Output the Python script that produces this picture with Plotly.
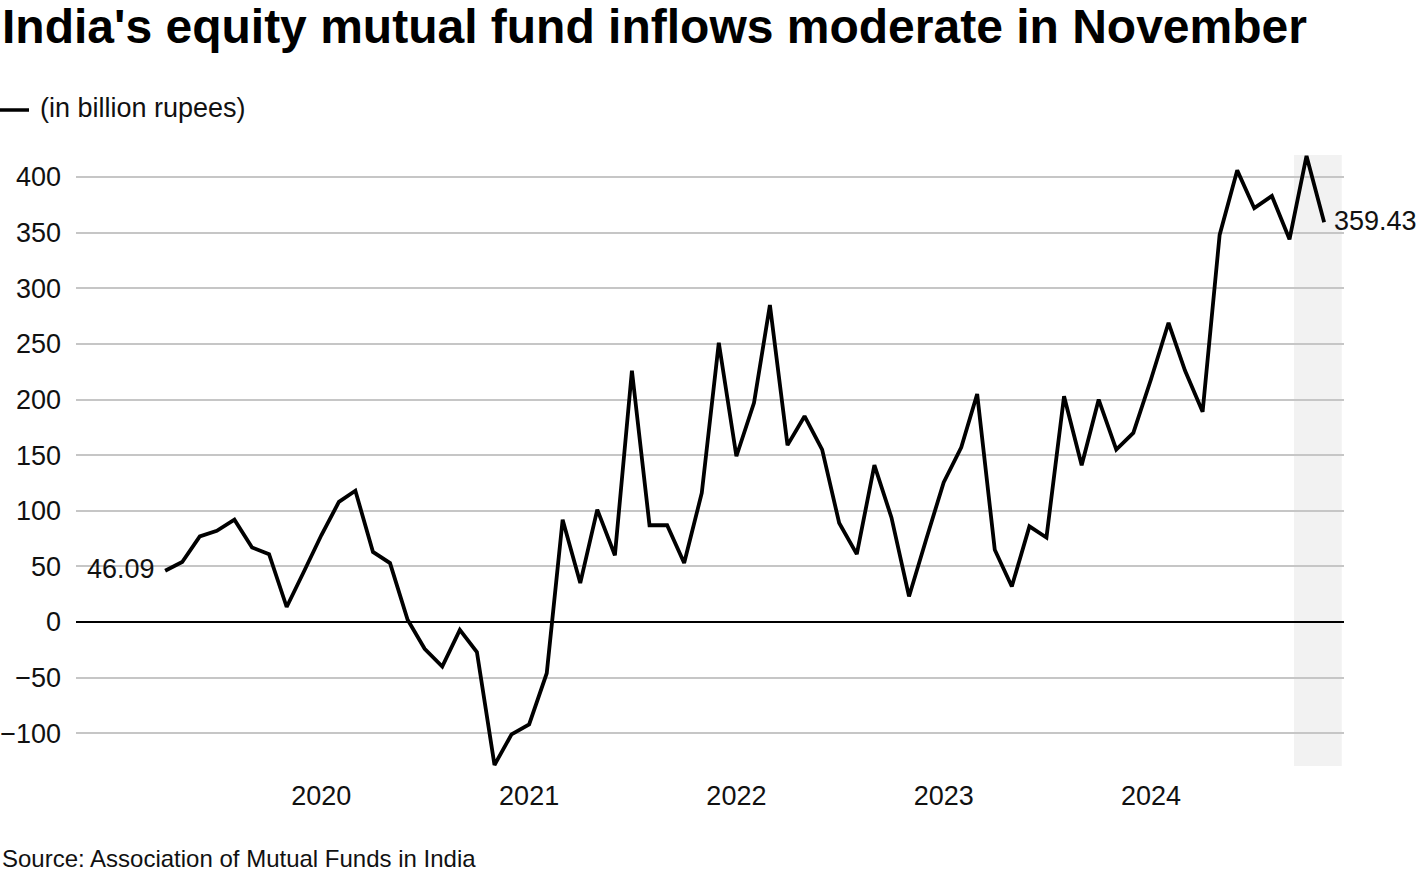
import pandas as pd
import plotly.graph_objects as go

# ---- data (billion rupees, monthly net equity MF inflows) ----
start_month = "2019-04-01"
values = [
    46.09, 54, 77, 82, 92, 67, 61, 13.5, 45,                      # Apr-Dec 2019
    78, 108, 118, 63, 53, 2, -24, -40, -7, -27, -128.5, -101,       # 2020
    -92, -46, 92, 35, 101, 60, 226, 87, 87, 53, 116, 251,           # 2021
    149, 197, 285, 159, 185, 155, 89, 61, 141, 94, 23, 74,          # 2022
    125.5, 157, 205, 65, 32, 86, 76, 203, 141, 200, 155, 170,       # 2023
    218, 269, 226, 189, 348, 406, 372, 383, 344, 419, 359.43,       # Jan-Nov 2024
]
months = pd.date_range(start_month, periods=len(values), freq="MS")

year_ticks = ["2020-01-01", "2021-01-01", "2022-01-01", "2023-01-01", "2024-01-01"]
year_labels = ["2020", "2021", "2022", "2023", "2024"]
y_ticks = [-100, -50, 0, 50, 100, 150, 200, 250, 300, 350, 400]

title_text = "India's equity mutual fund inflows moderate in November"
unit_text = "(in billion rupees)"
source_text = "Source: Association of Mutual Funds in India"

FONT = "Liberation Sans, Arial, Helvetica, sans-serif"
INK = "#111111"

fig = go.Figure()
fig.add_trace(go.Scatter(
    x=months, y=values, mode="lines",
    line=dict(color="black", width=3.8),
    hoverinfo="x+y", showlegend=False,
))

# highlight band for latest months
fig.add_shape(type="rect", xref="x", yref="paper",
              x0="2024-09-09", x1="2024-12-02", y0=0, y1=1,
              fillcolor="#f2f2f2", line=dict(width=0), layer="below")

# legend-like line key
fig.add_shape(type="line", xref="paper", yref="paper",
              x0=-76 / 1268, x1=(29 - 76) / 1268,
              y0=(766 - 110) / 611, y1=(766 - 110) / 611,
              line=dict(color="black", width=3.5))

annotations = [
    dict(text=f"<b>{title_text}</b>", xref="paper", yref="paper",
         x=-76 / 1268, y=(766 - 26) / 611, xanchor="left", yanchor="middle",
         showarrow=False, font=dict(size=48, color="black", family=FONT)),
    dict(text=unit_text, xref="paper", yref="paper",
         x=(38 - 76) / 1268, y=(766 - 108) / 611, xanchor="left", yanchor="middle",
         showarrow=False, font=dict(size=27, color=INK, family=FONT)),
    dict(text=source_text, xref="paper", yref="paper",
         x=-76 / 1268, y=(766 - 858) / 611, xanchor="left", yanchor="middle",
         showarrow=False, font=dict(size=24, color=INK, family=FONT)),
    dict(text=f"{values[0]:.2f}", x=months[0], y=values[0], xref="x", yref="y",
         xanchor="right", yanchor="middle", xshift=-8, yshift=2, showarrow=False,
         font=dict(size=27, color=INK, family=FONT)),
    dict(text=f"{values[-1]:.2f}", x=months[-1], y=values[-1], xref="x", yref="y",
         xanchor="left", yanchor="middle", xshift=8, yshift=1, showarrow=False,
         font=dict(size=27, color=INK, family=FONT)),
]

fig.update_layout(
    width=1420, height=878,
    margin=dict(l=76, r=76, t=155, b=112, autoexpand=False),
    paper_bgcolor="white", plot_bgcolor="white",
    font=dict(family=FONT, size=27, color=INK),
    annotations=annotations,
    xaxis=dict(
        range=["2018-10-26", "2024-12-06"],
        tickvals=year_ticks, ticktext=year_labels,
        showgrid=False, zeroline=False, showline=False, ticks="",
        ticklabelstandoff=11, automargin=False,
        tickfont=dict(size=27, color=INK, family=FONT),
    ),
    yaxis=dict(
        range=[-129.4, 419.8],
        tickvals=y_ticks,
        showgrid=True, gridcolor="#c6c6c6", gridwidth=1.6,
        zeroline=True, zerolinecolor="black", zerolinewidth=2,
        showline=False, ticks="", ticklabelstandoff=14, automargin=False,
        tickfont=dict(size=27, color=INK, family=FONT),
    ),
)

fig.write_html(
    "out.html",
    config={"displayModeBar": False},
    post_script="document.body.style.margin='0';document.body.style.padding='0';"
                "document.body.style.overflow='hidden';",
)
